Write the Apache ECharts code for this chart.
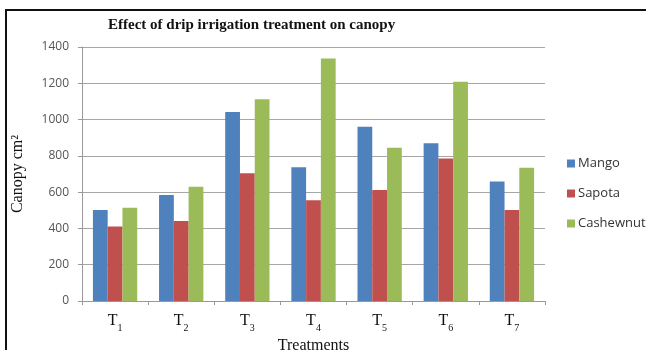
<!DOCTYPE html>
<html><head><meta charset="utf-8">
<script src="https://cdn.jsdelivr.net/npm/echarts@6/dist/echarts.min.js"></script>
<style>html,body{margin:0;padding:0;background:#fff}#c{width:646px;height:350px}</style>
</head><body><div id="c"></div>
<script>
const categories = ['T1','T2','T3','T4','T5','T6','T7'];
const mango = [502, 584, 1042, 737, 961, 869, 658];
const sapota = [410, 441, 704, 555, 612, 786, 502];
const cashewnut = [514, 630, 1112, 1336, 845, 1209, 735];
const seriesNames = ['Mango','Sapota','Cashewnut'];
const yTicks = [0,200,400,600,800,1000,1200,1400];

const chart = echarts.init(document.getElementById('c'));
const colors = ['#4F81BD','#C0504D','#9BBB59'];
chart.setOption({
  animation: false,
  backgroundColor: '#fff',
  color: colors,
  title: {
    text: 'Effect of drip irrigation treatment on canopy',
    left: 103, top: 13,
    textStyle: {fontFamily: 'Liberation Serif', fontWeight: 'bold', fontSize: 15, color: '#111'}
  },
  legend: {
    orient: 'vertical', left: 562, top: 152, itemGap: 17,
    itemWidth: 8, itemHeight: 8, icon: 'rect',
    textStyle: {fontFamily: 'Open Sans', fontSize: 13, color: '#333', padding: [0,0,0,-2]},
    data: seriesNames
  },
  grid: {left: 82, right: 101, top: 47, bottom: 49, outerBoundsMode: 'none'},
  xAxis: {
    type: 'category', data: categories,
    name: 'Treatments', nameLocation: 'middle', nameGap: 28,
    nameTextStyle: {fontFamily: 'Liberation Serif', fontSize: 16, color: '#111'},
    axisLine: {lineStyle: {color: '#999'}},
    axisTick: {show: true, length: 4, lineStyle: {color: '#999'}},
    axisLabel: {
      margin: 12,
      formatter: v => '{a|' + v.charAt(0) + '}{b|' + v.slice(1) + '}',
      rich: {
        a: {fontFamily: 'Liberation Serif', fontSize: 16, color: '#111', verticalAlign: 'bottom'},
        b: {fontFamily: 'Liberation Serif', fontSize: 10, color: '#111', verticalAlign: 'bottom', padding: [0,0,-4,0]}
      }
    }
  },
  yAxis: {
    type: 'value', min: 0, max: 1400, interval: 200,
    name: 'Canopy cm²', nameLocation: 'middle', nameGap: 56, nameRotate: 90,
    nameTextStyle: {fontFamily: 'Liberation Serif', fontSize: 16, color: '#111'},
    axisLine: {show: true, lineStyle: {color: '#999'}},
    axisTick: {show: true, length: 4, lineStyle: {color: '#999'}},
    axisLabel: {
      margin: 13, fontFamily: 'Open Sans', fontSize: 12, color: '#555',
      formatter: v => yTicks.includes(v) ? String(v) : ''
    },
    splitLine: {lineStyle: {color: '#a6a6a6'}}
  },
  series: [
    {name: seriesNames[0], type: 'bar', data: mango, barGap: '0%', barCategoryGap: '33%'},
    {name: seriesNames[1], type: 'bar', data: sapota, barGap: '0%', barCategoryGap: '33%'},
    {name: seriesNames[2], type: 'bar', data: cashewnut, barGap: '0%', barCategoryGap: '33%'}
  ],
  graphic: [
    {type: 'rect', shape: {x: 5, y: 9, width: 641, height: 2}, style: {fill: '#111'}, silent: true},
    {type: 'rect', shape: {x: 5, y: 9, width: 2, height: 341}, style: {fill: '#111'}, silent: true}
  ]
});
</script></body></html>
